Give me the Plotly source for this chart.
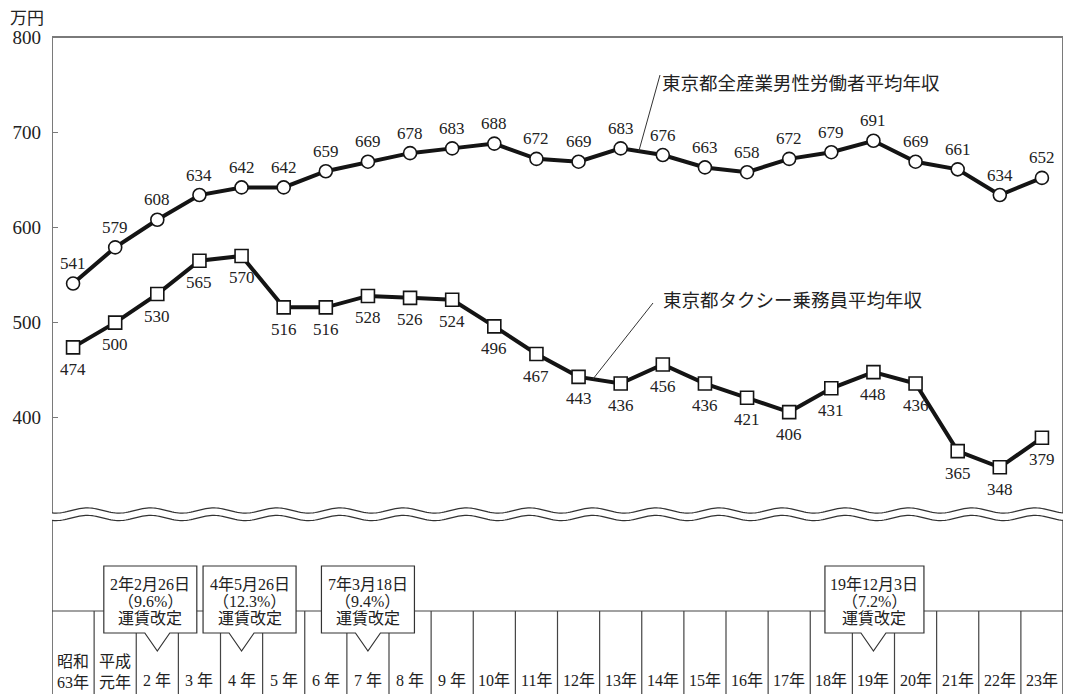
import math
import plotly.graph_objects as go

# ---------------- data ----------------
years = ["昭和<br>63年", "平成<br>元年", "2 年", "3 年", "4 年", "5 年", "6 年", "7 年",
         "8 年", "9 年", "10年", "11年", "12年", "13年", "14年", "15年", "16年",
         "17年", "18年", "19年", "20年", "21年", "22年", "23年"]
male = [541, 579, 608, 634, 642, 642, 659, 669, 678, 683, 688, 672, 669, 683,
        676, 663, 658, 672, 679, 691, 669, 661, 634, 652]
taxi = [474, 500, 530, 565, 570, 516, 516, 528, 526, 524, 496, 467, 443, 436,
        456, 436, 421, 406, 431, 448, 436, 365, 348, 379]
y_ticks = [400, 500, 600, 700, 800]
unit_label = "万円"
male_name = "東京都全産業男性労働者平均年収"
taxi_name = "東京都タクシー乗務員平均年収"
fare_idx = [2, 4, 7, 19]
fare_date = ["2年2月26日", "4年5月26日", "7年3月18日", "19年12月3日"]
fare_rate = ["（9.6%）", "（12.3%）", "（9.4%）", "（7.2%）"]
fare_label = "運賃改定"

# ---------------- geometry / style ----------------
W, H = 1065, 694
L, R, T, B = 52, 2, 37, 0
N = len(years)
col_w = (W - L - R) / N
PX_PER_UNIT = 0.952
y_top = 800
y_bot = y_top - (H - T - B) / PX_PER_UNIT

SERIF = "'Liberation Serif', 'Noto Sans CJK JP', serif"
TXT = "#222222"
LINE = "#141414"
FRAME = "#7a7a7a"
GRID = "#444444"


def py2p(p):
    """pixel row -> paper y"""
    return (H - B - p) / (H - T - B)


def px2x(p):
    """pixel column -> data x"""
    return (p - L) / col_w - 0.5


def px2y(p):
    return y_top - (p - T) / PX_PER_UNIT


xs = list(range(N))

fig = go.Figure()
fig.add_trace(go.Scatter(
    x=xs, y=male, mode="lines+markers",
    line=dict(color=LINE, width=4),
    marker=dict(symbol="circle", size=13, color="white",
                line=dict(color=LINE, width=1.6)),
    hoverinfo="skip", showlegend=False))
fig.add_trace(go.Scatter(
    x=xs, y=taxi, mode="lines+markers",
    line=dict(color=LINE, width=4),
    marker=dict(symbol="square", size=13, color="white",
                line=dict(color=LINE, width=1.6)),
    hoverinfo="skip", showlegend=False))

annotations = []
for i, v in enumerate(male):
    annotations.append(dict(x=i, y=v, text=str(v), showarrow=False, yshift=20,
                            font=dict(family=SERIF, size=17, color=TXT)))
for i, v in enumerate(taxi):
    annotations.append(dict(x=i, y=v, text=str(v), showarrow=False, yshift=-22,
                            font=dict(family=SERIF, size=17, color=TXT)))

# series names
annotations.append(dict(x=px2x(660), y=px2y(84), text=male_name, showarrow=False,
                        xanchor="left", yanchor="middle",
                        font=dict(family=SERIF, size=18.5, color=TXT)))
annotations.append(dict(x=px2x(661), y=px2y(301), text=taxi_name, showarrow=False,
                        xanchor="left", yanchor="middle",
                        font=dict(family=SERIF, size=18.5, color=TXT)))

# unit label
annotations.append(dict(xref="paper", yref="paper", x=(8 - L) / (W - L - R), y=py2p(18),
                        text=unit_label, showarrow=False, xanchor="left", yanchor="middle",
                        font=dict(family=SERIF, size=17, color=TXT)))

shapes = []
# leader lines (end points on the series segments)
shapes.append(dict(type="line", xref="x", yref="y",
                   x0=px2x(660), y0=px2y(75),
                   x1=13.43, y1=male[13] + 0.43 * (male[14] - male[13]),
                   line=dict(color="#333333", width=1)))
shapes.append(dict(type="line", xref="x", yref="y",
                   x0=px2x(653), y0=px2y(303),
                   x1=12.34, y1=taxi[12] + 0.34 * (taxi[13] - taxi[12]),
                   line=dict(color="#333333", width=1)))

# frame: left, top, right
for (x0, y0, x1, y1) in [(-0.5, 0, -0.5, 1), (-0.5, 1, N - 0.5, 1), (N - 0.5, 0, N - 0.5, 1)]:
    shapes.append(dict(type="line", xref="x", yref="paper", x0=x0, y0=y0, x1=x1, y1=y1,
                       line=dict(color=FRAME, width=2)))

# table grid
table_top = py2p(611)
shapes.append(dict(type="line", xref="x", yref="paper", x0=-0.5, x1=N - 0.5,
                   y0=table_top, y1=table_top, line=dict(color=GRID, width=1.2)))
for k in range(1, N):
    shapes.append(dict(type="line", xref="x", yref="paper", x0=k - 0.5, x1=k - 0.5,
                       y0=0, y1=table_top, line=dict(color=GRID, width=1.2)))

# wavy break
period = 1.5  # columns per wave
amp_px = 2.6
up_c, lo_c = 510.5, 518.0
steps = 480


def wave(xd, center):
    return py2p(center + amp_px * math.sin(2 * math.pi * (xd + 0.5) / period + 1.2))


ptsx = [-0.5 + (N) * s / steps for s in range(steps + 1)]
upper = [(x, wave(x, up_c)) for x in ptsx]
lower = [(x, wave(x, lo_c)) for x in ptsx]
band = "M " + " L ".join(f"{x:.4f},{y:.5f}" for x, y in upper)
band += " L " + " L ".join(f"{x:.4f},{y:.5f}" for x, y in reversed(lower)) + " Z"
band = band.replace("M -0.5000", "M -0.5600", 1)
shapes.append(dict(type="path", xref="x", yref="paper", path=band,
                   fillcolor="white", line=dict(width=0)))
for pts in (upper, lower):
    p = "M " + " L ".join(f"{x:.4f},{y:.5f}" for x, y in pts)
    shapes.append(dict(type="path", xref="x", yref="paper", path=p,
                       line=dict(color="#333333", width=1.2)))

# fare revision callouts
box_shift_px = [-7, 8, 0, 1]
box_w_px = [93, 93, 93, 99]
box_top_px, box_bot_px, tip_px, half_base_px = 566, 633, 651, 12.5
line_rows_px = [584, 601.5, 618.5]
for n, idx in enumerate(fare_idx):
    cx = idx + box_shift_px[n] / col_w
    hw = box_w_px[n] / 2 / col_w
    hb = half_base_px / col_w
    yt, yb, ytip = py2p(box_top_px), py2p(box_bot_px), py2p(tip_px)
    path = (f"M {cx-hw},{yt} L {cx+hw},{yt} L {cx+hw},{yb} L {idx+hb},{yb} "
            f"L {idx},{ytip} L {idx-hb},{yb} L {cx-hw},{yb} Z")
    shapes.append(dict(type="path", xref="x", yref="paper", path=path,
                       fillcolor="white", line=dict(color="#333333", width=1.2)))
    for txt, row in zip([fare_date[n], fare_rate[n], fare_label], line_rows_px):
        annotations.append(dict(xref="x", yref="paper", x=cx, y=py2p(row),
                                text=txt, showarrow=False, xanchor="center",
                                yanchor="middle",
                                font=dict(family=SERIF, size=16, color=TXT)))

# table labels
for i, lab in enumerate(years):
    two = "<br>" in lab
    annotations.append(dict(xref="x", yref="paper", x=i, y=py2p(672 if two else 680.5),
                            text=lab, showarrow=False, xanchor="center", yanchor="middle",
                            font=dict(family=SERIF, size=16, color=TXT)))

fig.update_layout(
    width=W, height=H,
    margin=dict(l=L, r=R, t=T, b=B),
    paper_bgcolor="white", plot_bgcolor="white",
    xaxis=dict(range=[-0.5, N - 0.5], showgrid=False, zeroline=False,
               showticklabels=False, ticks="", showline=False, fixedrange=True),
    yaxis=dict(range=[y_bot, y_top], showgrid=False, zeroline=False,
               tickvals=y_ticks, ticktext=[str(v) for v in y_ticks],
               ticks="inside", ticklen=6, tickwidth=1.4, tickcolor=FRAME,
               ticklabelstandoff=10, showline=False, fixedrange=True,
               tickfont=dict(family=SERIF, size=19, color=TXT)),
    shapes=shapes,
    annotations=annotations,
    hovermode=False,
)

fig.write_html("out.html")
